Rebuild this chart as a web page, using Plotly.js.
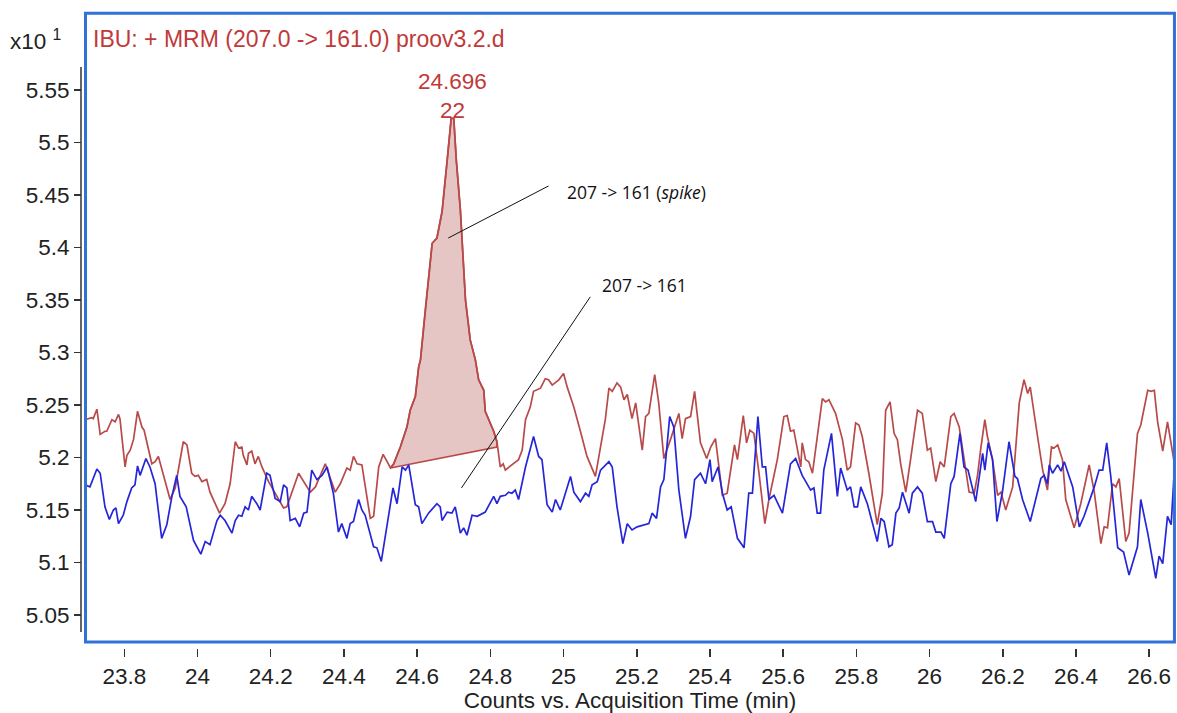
<!DOCTYPE html>
<html>
<head>
<meta charset="utf-8">
<script src="https://cdn.plot.ly/plotly-3.0.1.min.js"></script>
<style>html,body{margin:0;padding:0;background:#fff;}#chart{width:1177px;height:713px;}</style>
</head>
<body>
<div id="chart"></div>
<script>
// Acquisition time (min) and counts (x10^1) for the spiked 207 -> 161 trace (red)
const redTime = [
 23.692, 23.711, 23.715, 23.725, 23.734, 23.747, 23.752, 23.766, 23.775, 23.784,
 23.788, 23.802, 23.807, 23.816, 23.825, 23.836, 23.848, 23.854, 23.875, 23.884,
 23.893, 23.907, 23.925, 23.939, 23.952, 23.961, 23.971, 23.984, 23.993, 24.002,
 24.012, 24.025, 24.034, 24.060, 24.075, 24.089, 24.103, 24.112, 24.121, 24.125,
 24.135, 24.139, 24.148, 24.157, 24.166, 24.176, 24.194, 24.207, 24.235, 24.244,
 24.276, 24.308, 24.322, 24.349, 24.358, 24.376, 24.390, 24.408, 24.417, 24.426,
 24.436, 24.449, 24.472, 24.481, 24.495, 24.507, 24.518, 24.527, 24.536, 24.554,
 24.572, 24.581, 24.595, 24.604, 24.609, 24.622, 24.641, 24.654, 24.668, 24.682,
 24.693, 24.700, 24.707, 24.718, 24.732, 24.745, 24.759, 24.768, 24.782, 24.786,
 24.795, 24.809, 24.818, 24.823, 24.827, 24.835, 24.841, 24.855, 24.868, 24.877,
 24.887, 24.896, 24.909, 24.918, 24.937, 24.950, 24.959, 24.969, 24.987, 25.000,
 25.010, 25.028, 25.046, 25.064, 25.087, 25.101, 25.114, 25.124, 25.133, 25.146,
 25.156, 25.165, 25.174, 25.187, 25.197, 25.215, 25.224, 25.233, 25.249, 25.260,
 25.274, 25.292, 25.315, 25.324, 25.333, 25.347, 25.358, 25.374, 25.391, 25.402,
 25.415, 25.434, 25.447, 25.467, 25.475, 25.491, 25.500, 25.509, 25.520, 25.534,
 25.550, 25.561, 25.584, 25.602, 25.611, 25.620, 25.629, 25.648, 25.652, 25.661,
 25.670, 25.680, 25.689, 25.707, 25.716, 25.725, 25.743, 25.762, 25.775, 25.784,
 25.798, 25.807, 25.816, 25.834, 25.857, 25.871, 25.880, 25.892, 25.903, 25.912,
 25.921, 25.935, 25.948, 25.967, 25.980, 25.994, 26.003, 26.017, 26.029, 26.040,
 26.058, 26.067, 26.081, 26.094, 26.108, 26.122, 26.131, 26.140, 26.151, 26.158,
 26.172, 26.186, 26.195, 26.208, 26.227, 26.245, 26.258, 26.268, 26.275, 26.295,
 26.309, 26.322, 26.333, 26.340, 26.350, 26.363, 26.372, 26.395, 26.413, 26.436,
 26.450, 26.468, 26.477, 26.486, 26.500, 26.509, 26.518, 26.536, 26.545, 26.568,
 26.577, 26.596, 26.605, 26.614, 26.623, 26.637, 26.650, 26.669, 26.679
];
const redCounts = [
 5.236, 5.238, 5.237, 5.246, 5.222, 5.225, 5.225, 5.236, 5.234, 5.241,
 5.237, 5.191, 5.202, 5.207, 5.217, 5.244, 5.229, 5.226, 5.194, 5.196,
 5.201, 5.182, 5.160, 5.171, 5.198, 5.215, 5.212, 5.185, 5.182, 5.183,
 5.177, 5.179, 5.167, 5.147, 5.156, 5.175, 5.215, 5.209, 5.210, 5.202,
 5.193, 5.204, 5.206, 5.194, 5.201, 5.191, 5.177, 5.169, 5.152, 5.153,
 5.185, 5.167, 5.172, 5.194, 5.185, 5.167, 5.175, 5.190, 5.188, 5.201,
 5.194, 5.193, 5.142, 5.144, 5.191, 5.203, 5.196, 5.190, 5.194, 5.210,
 5.229, 5.245, 5.258, 5.286, 5.293, 5.340, 5.404, 5.409, 5.434, 5.483,
 5.523, 5.523, 5.483, 5.436, 5.350, 5.312, 5.293, 5.274, 5.264, 5.244,
 5.237, 5.225, 5.215, 5.204, 5.191, 5.194, 5.188, 5.192, 5.196, 5.198,
 5.207, 5.236, 5.248, 5.263, 5.266, 5.275, 5.274, 5.269, 5.274, 5.280,
 5.267, 5.248, 5.225, 5.201, 5.182, 5.209, 5.236, 5.266, 5.263, 5.271,
 5.267, 5.255, 5.260, 5.237, 5.252, 5.207, 5.239, 5.242, 5.279, 5.252,
 5.199, 5.217, 5.242, 5.218, 5.237, 5.239, 5.263, 5.214, 5.199, 5.210,
 5.218, 5.164, 5.166, 5.212, 5.198, 5.240, 5.214, 5.226, 5.223, 5.185,
 5.137, 5.160, 5.198, 5.239, 5.240, 5.225, 5.226, 5.191, 5.214, 5.198,
 5.196, 5.185, 5.207, 5.256, 5.253, 5.255, 5.242, 5.217, 5.188, 5.191,
 5.233, 5.231, 5.220, 5.185, 5.136, 5.166, 5.245, 5.253, 5.223, 5.217,
 5.194, 5.167, 5.198, 5.245, 5.242, 5.207, 5.209, 5.177, 5.196, 5.191,
 5.239, 5.242, 5.229, 5.198, 5.167, 5.166, 5.183, 5.209, 5.236, 5.220,
 5.198, 5.164, 5.167, 5.150, 5.172, 5.252, 5.274, 5.261, 5.267, 5.220,
 5.188, 5.169, 5.210, 5.209, 5.212, 5.198, 5.160, 5.133, 5.156, 5.193,
 5.167, 5.118, 5.134, 5.133, 5.175, 5.172, 5.180, 5.120, 5.128, 5.223,
 5.231, 5.264, 5.263, 5.264, 5.234, 5.206, 5.234, 5.194, 5.193
];
// Unspiked 207 -> 161 trace (blue)
const blueTime = [
 23.692, 23.706, 23.725, 23.734, 23.747, 23.759, 23.770, 23.777, 23.784, 23.797,
 23.807, 23.820, 23.829, 23.836, 23.843, 23.859, 23.870, 23.884, 23.902, 23.916,
 23.930, 23.943, 23.952, 23.969, 23.989, 24.009, 24.021, 24.034, 24.053, 24.062,
 24.075, 24.094, 24.103, 24.112, 24.121, 24.130, 24.139, 24.148, 24.162, 24.171,
 24.189, 24.198, 24.212, 24.226, 24.235, 24.244, 24.253, 24.267, 24.279, 24.290,
 24.299, 24.312, 24.326, 24.340, 24.354, 24.371, 24.385, 24.394, 24.408, 24.417,
 24.426, 24.440, 24.449, 24.458, 24.481, 24.490, 24.502, 24.518, 24.534, 24.545,
 24.559, 24.568, 24.577, 24.595, 24.604, 24.613, 24.631, 24.654, 24.663, 24.668,
 24.682, 24.695, 24.704, 24.718, 24.727, 24.736, 24.750, 24.764, 24.786, 24.809,
 24.818, 24.827, 24.841, 24.850, 24.859, 24.868, 24.877, 24.896, 24.918, 24.932,
 24.941, 24.955, 24.969, 24.978, 24.991, 25.019, 25.028, 25.046, 25.060, 25.069,
 25.078, 25.092, 25.101, 25.124, 25.133, 25.146, 25.162, 25.174, 25.187, 25.201,
 25.219, 25.233, 25.242, 25.254, 25.265, 25.274, 25.290, 25.301, 25.315, 25.333,
 25.347, 25.358, 25.374, 25.388, 25.400, 25.406, 25.422, 25.434, 25.447, 25.458,
 25.475, 25.493, 25.506, 25.516, 25.531, 25.543, 25.552, 25.561, 25.575, 25.598,
 25.620, 25.634, 25.652, 25.675, 25.684, 25.693, 25.702, 25.711, 25.732, 25.748,
 25.757, 25.775, 25.784, 25.794, 25.803, 25.812, 25.830, 25.857, 25.867, 25.876,
 25.889, 25.898, 25.908, 25.917, 25.926, 25.944, 25.953, 25.967, 25.980, 25.994,
 26.008, 26.017, 26.031, 26.040, 26.058, 26.067, 26.083, 26.094, 26.105, 26.117,
 26.126, 26.145, 26.151, 26.160, 26.172, 26.184, 26.199, 26.217, 26.233, 26.240,
 26.254, 26.275, 26.295, 26.304, 26.313, 26.322, 26.327, 26.336, 26.350, 26.359,
 26.368, 26.391, 26.409, 26.422, 26.436, 26.450, 26.463, 26.473, 26.484, 26.495,
 26.514, 26.530, 26.545, 26.568, 26.577, 26.596, 26.618, 26.627, 26.637, 26.650,
 26.660, 26.673
];
const blueCounts = [
 5.174, 5.172, 5.189, 5.185, 5.153, 5.141, 5.150, 5.152, 5.137, 5.145,
 5.158, 5.171, 5.174, 5.192, 5.183, 5.199, 5.191, 5.175, 5.123, 5.136,
 5.163, 5.183, 5.163, 5.153, 5.121, 5.108, 5.120, 5.117, 5.140, 5.145,
 5.140, 5.128, 5.140, 5.145, 5.144, 5.153, 5.150, 5.163, 5.156, 5.150,
 5.185, 5.183, 5.161, 5.158, 5.174, 5.171, 5.140, 5.142, 5.134, 5.147,
 5.148, 5.188, 5.179, 5.183, 5.191, 5.166, 5.129, 5.137, 5.123, 5.137,
 5.139, 5.160, 5.150, 5.145, 5.115, 5.114, 5.101, 5.134, 5.171, 5.156,
 5.191, 5.188, 5.193, 5.155, 5.153, 5.137, 5.147, 5.156, 5.153, 5.140,
 5.148, 5.147, 5.153, 5.128, 5.133, 5.126, 5.145, 5.144, 5.148, 5.163,
 5.156, 5.163, 5.164, 5.167, 5.166, 5.169, 5.160, 5.191, 5.220, 5.201,
 5.198, 5.155, 5.148, 5.160, 5.150, 5.182, 5.167, 5.158, 5.166, 5.163,
 5.174, 5.177, 5.188, 5.196, 5.191, 5.153, 5.118, 5.137, 5.131, 5.134,
 5.136, 5.137, 5.147, 5.142, 5.172, 5.179, 5.239, 5.229, 5.169, 5.123,
 5.144, 5.179, 5.185, 5.175, 5.198, 5.177, 5.191, 5.166, 5.150, 5.153,
 5.123, 5.114, 5.166, 5.166, 5.239, 5.191, 5.191, 5.160, 5.164, 5.147,
 5.194, 5.199, 5.183, 5.169, 5.171, 5.147, 5.147, 5.188, 5.223, 5.163,
 5.190, 5.169, 5.172, 5.153, 5.153, 5.172, 5.156, 5.120, 5.142, 5.139,
 5.115, 5.117, 5.147, 5.152, 5.167, 5.147, 5.166, 5.172, 5.166, 5.139,
 5.139, 5.129, 5.129, 5.123, 5.175, 5.182, 5.223, 5.191, 5.188, 5.172,
 5.158, 5.204, 5.188, 5.214, 5.198, 5.139, 5.167, 5.215, 5.182, 5.180,
 5.160, 5.139, 5.166, 5.180, 5.183, 5.175, 5.193, 5.185, 5.193, 5.187,
 5.196, 5.172, 5.134, 5.144, 5.158, 5.172, 5.188, 5.188, 5.214, 5.182,
 5.114, 5.110, 5.088, 5.115, 5.160, 5.128, 5.085, 5.106, 5.099, 5.144,
 5.136, 5.214
];
// Integrated peak: baseline start/end
const baseTime = [24.527, 24.818];
const baseCounts = [5.190, 5.210];
const peakTime = 24.696;
const peakCounts = 5.523;
const peakLabel = ['24.696', '22'];

const xTickVals = [23.8, 24.0, 24.2, 24.4, 24.6, 24.8, 25.0, 25.2, 25.4, 25.6, 25.8, 26.0, 26.2, 26.4, 26.6];
const xTickText = ['23.8', '24', '24.2', '24.4', '24.6', '24.8', '25', '25.2', '25.4', '25.6', '25.8', '26', '26.2', '26.4', '26.6'];
const yTickVals = [5.05, 5.10, 5.15, 5.20, 5.25, 5.30, 5.35, 5.40, 5.45, 5.50, 5.55];
const yTickText = ['5.05', '5.1', '5.15', '5.2', '5.25', '5.3', '5.35', '5.4', '5.45', '5.5', '5.55'];

const titleText = 'IBU: + MRM (207.0 -> 161.0) proov3.2.d';
const xTitle = 'Counts vs. Acquisition Time (min)';
const spikeLabel = '207 -> 161 (<i>spike</i>)';
const plainLabel = '207 -> 161';

// Build fill polygon for the integrated peak from the red data
const fillX = [], fillY = [];
for (let i = 0; i < redTime.length; i++) {
  if (redTime[i] >= baseTime[0] && redTime[i] <= baseTime[1]) { fillX.push(redTime[i]); fillY.push(redCounts[i]); }
}
fillX.push(baseTime[1], baseTime[0]);
fillY.push(baseCounts[1], baseCounts[0]);

const RED = '#b84a4a';
const BLUE = '#2626d9';
const TXTRED = '#c03a3a';
const FONT = 'Liberation Sans, Arial, sans-serif';

const traces = [
  {x: fillX, y: fillY, type: 'scatter', mode: 'lines', fill: 'toself', fillcolor: 'rgb(230,197,197)',
   line: {color: RED, width: 1.7}, hoverinfo: 'skip'},
  {x: redTime, y: redCounts, type: 'scatter', mode: 'lines', line: {color: RED, width: 1.7}, name: '207 -> 161 (spike)'},
  {x: blueTime, y: blueCounts, type: 'scatter', mode: 'lines', line: {color: BLUE, width: 1.7}, name: '207 -> 161'}
];

const layout = {
  width: 1177, height: 713,
  margin: {l: 81, r: 2, t: 13, b: 65, pad: 0},
  paper_bgcolor: '#ffffff', plot_bgcolor: '#ffffff',
  showlegend: false,
  font: {family: FONT, color: '#222'},
  xaxis: {
    domain: [0.003656, 1], anchor: 'free', position: 0,
    range: [23.6925, 26.6705],
    tickmode: 'array', tickvals: xTickVals, ticktext: xTickText,
    ticks: 'outside', ticklen: 8, tickwidth: 1.5, tickcolor: '#333',
    showgrid: false, zeroline: false, showline: false,
    tickfont: {family: FONT, size: 22.5, color: '#222'},
    title: {text: xTitle, font: {family: FONT, size: 22.5, color: '#222'}, standoff: 4}
  },
  yaxis: {
    domain: [0.00945, 1], anchor: 'free', position: 0,
    range: [5.0243, 5.6233],
    tickmode: 'array', tickvals: yTickVals, ticktext: yTickText,
    ticks: 'outside', ticklen: 7, tickwidth: 1.5, tickcolor: '#333',
    showgrid: false, zeroline: false, showline: false,
    tickfont: {family: FONT, size: 22.5, color: '#222'}
  },
  shapes: [
    {type: 'rect', xref: 'paper', yref: 'paper', x0: 0.00411, x1: 0.9995, y0: 0.00945, y1: 0.9995,
     line: {color: '#3271d6', width: 3}, layer: 'above'},
    {type: 'line', xref: 'paper', yref: 'paper', x0: 0, x1: 0, y0: 0.0252, y1: 0.915,
     line: {color: '#333', width: 1.5}},
    {type: 'line', xref: 'x', yref: 'y', x0: 24.959, y0: 5.4586, x1: 24.685, y1: 5.409,
     line: {color: '#111', width: 1}},
    {type: 'line', xref: 'x', yref: 'y', x0: 25.073, y0: 5.353, x1: 24.721, y1: 5.171,
     line: {color: '#111', width: 1}}
  ],
  annotations: [
    {text: titleText, xref: 'paper', yref: 'paper', x: 0.0095, y: 0.959, xanchor: 'left', yanchor: 'middle',
     showarrow: false, font: {family: FONT, size: 23, color: TXTRED}},
    {text: 'x10 <sup>1</sup>', xref: 'paper', yref: 'paper', x: -0.0668, y: 0.958, xanchor: 'left', yanchor: 'middle',
     showarrow: false, font: {family: FONT, size: 22.5, color: '#222'}},
    {text: peakLabel.join('<br>'), xref: 'x', yref: 'y', x: peakTime, y: peakCounts, xanchor: 'center', yanchor: 'bottom',
     yshift: -7, showarrow: false, font: {family: FONT, size: 22.5, color: TXTRED}},
    {text: spikeLabel, xref: 'x', yref: 'y', x: 25.011, y: 5.4529, xanchor: 'left', yanchor: 'middle', xshift: -3,
     showarrow: false, font: {family: 'Open Sans, sans-serif', size: 17.5, color: '#111'}},
    {text: plainLabel, xref: 'x', yref: 'y', x: 25.108, y: 5.3643, xanchor: 'left', yanchor: 'middle', xshift: -3,
     showarrow: false, font: {family: 'Open Sans, sans-serif', size: 17.5, color: '#111'}}
  ]
};

Plotly.newPlot('chart', traces, layout, {displayModeBar: false, staticPlot: true});
</script>
</body>
</html>
